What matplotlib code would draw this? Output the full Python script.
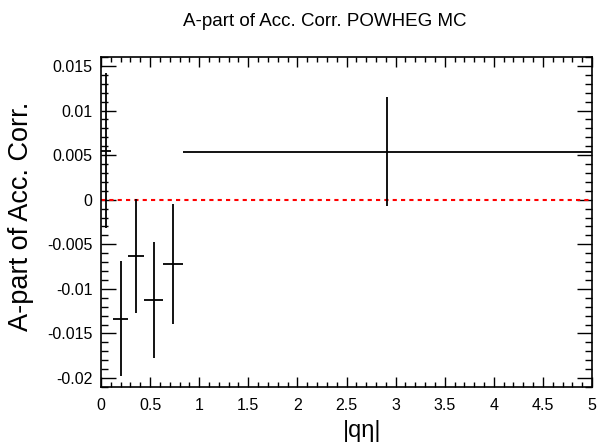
import numpy as np
import matplotlib
matplotlib.use("Agg")
import matplotlib.pyplot as plt
from matplotlib.ticker import MultipleLocator, FixedFormatter, FixedLocator

plt.rcParams['font.family'] = ['Liberation Sans', 'DejaVu Sans']

# bin centres, half widths, values and errors
eta_centres = [0.05, 0.20, 0.36, 0.535, 0.73, 2.915]
eta_halfwidth = [0.05, 0.08, 0.08, 0.095, 0.10, 2.085]
apart = [0.0055, -0.01335, -0.0063, -0.0112, -0.0072, 0.0054]
apart_err = [0.0087, 0.00645, 0.0064, 0.0065, 0.0067, 0.0061]

x_ticks = [0, 0.5, 1, 1.5, 2, 2.5, 3, 3.5, 4, 4.5, 5]
x_labels = ["0", "0.5", "1", "1.5", "2", "2.5", "3", "3.5", "4", "4.5", "5"]
y_ticks = [-0.02, -0.015, -0.01, -0.005, 0, 0.005, 0.01, 0.015]
y_labels = ["-0.02", "-0.015", "-0.01", "-0.005", "0", "0.005", "0.01", "0.015"]

W, H = 598, 447
fig = plt.figure(figsize=(W / 100, H / 100), dpi=100)
ax = fig.add_axes([101 / W, 1 - 387 / H, (592 - 101) / W, (387 - 57) / H])

# reference line at zero
ax.plot([0, 5], [0, 0], color='red', lw=1.5, ls=(0, (2, 2)), zorder=2)

ax.errorbar(eta_centres, apart, xerr=eta_halfwidth, yerr=apart_err,
            fmt='none', ecolor='black', elinewidth=1.3, capsize=0, zorder=3)

ax.set_xlim(0, 5)
ax.set_ylim(-0.021, 0.016)

ax.xaxis.set_major_locator(FixedLocator(x_ticks))
ax.xaxis.set_major_formatter(FixedFormatter(x_labels))
ax.xaxis.set_minor_locator(MultipleLocator(0.1))
ax.yaxis.set_major_locator(FixedLocator(y_ticks))
ax.yaxis.set_major_formatter(FixedFormatter(y_labels))
ax.yaxis.set_minor_locator(MultipleLocator(0.001))

ax.tick_params(which='both', direction='in', top=True, right=True,
               width=1, colors='black', labelsize=11.5)
ax.tick_params(axis='x', which='major', length=7.5, pad=8)
ax.tick_params(axis='x', which='minor', length=3.8)
ax.tick_params(axis='y', which='major', length=10.5, pad=6)
ax.tick_params(axis='y', which='minor', length=5.2)
for sp in ax.spines.values():
    sp.set_linewidth(1.2)

fig.text(325 / W, 1 - 22 / H, "A-part of Acc. Corr. POWHEG MC",
         ha='center', va='center', fontsize=13.5)
fig.text(362 / W, 1 - 431 / H, "|q\u03b7|", ha='center', va='center', fontsize=17)
fig.text(21 / W, 1 - 216 / H, "A-part of Acc. Corr.", ha='center', va='center',
         rotation=90, fontsize=19.5)

fig.savefig("out.png", dpi=100)
